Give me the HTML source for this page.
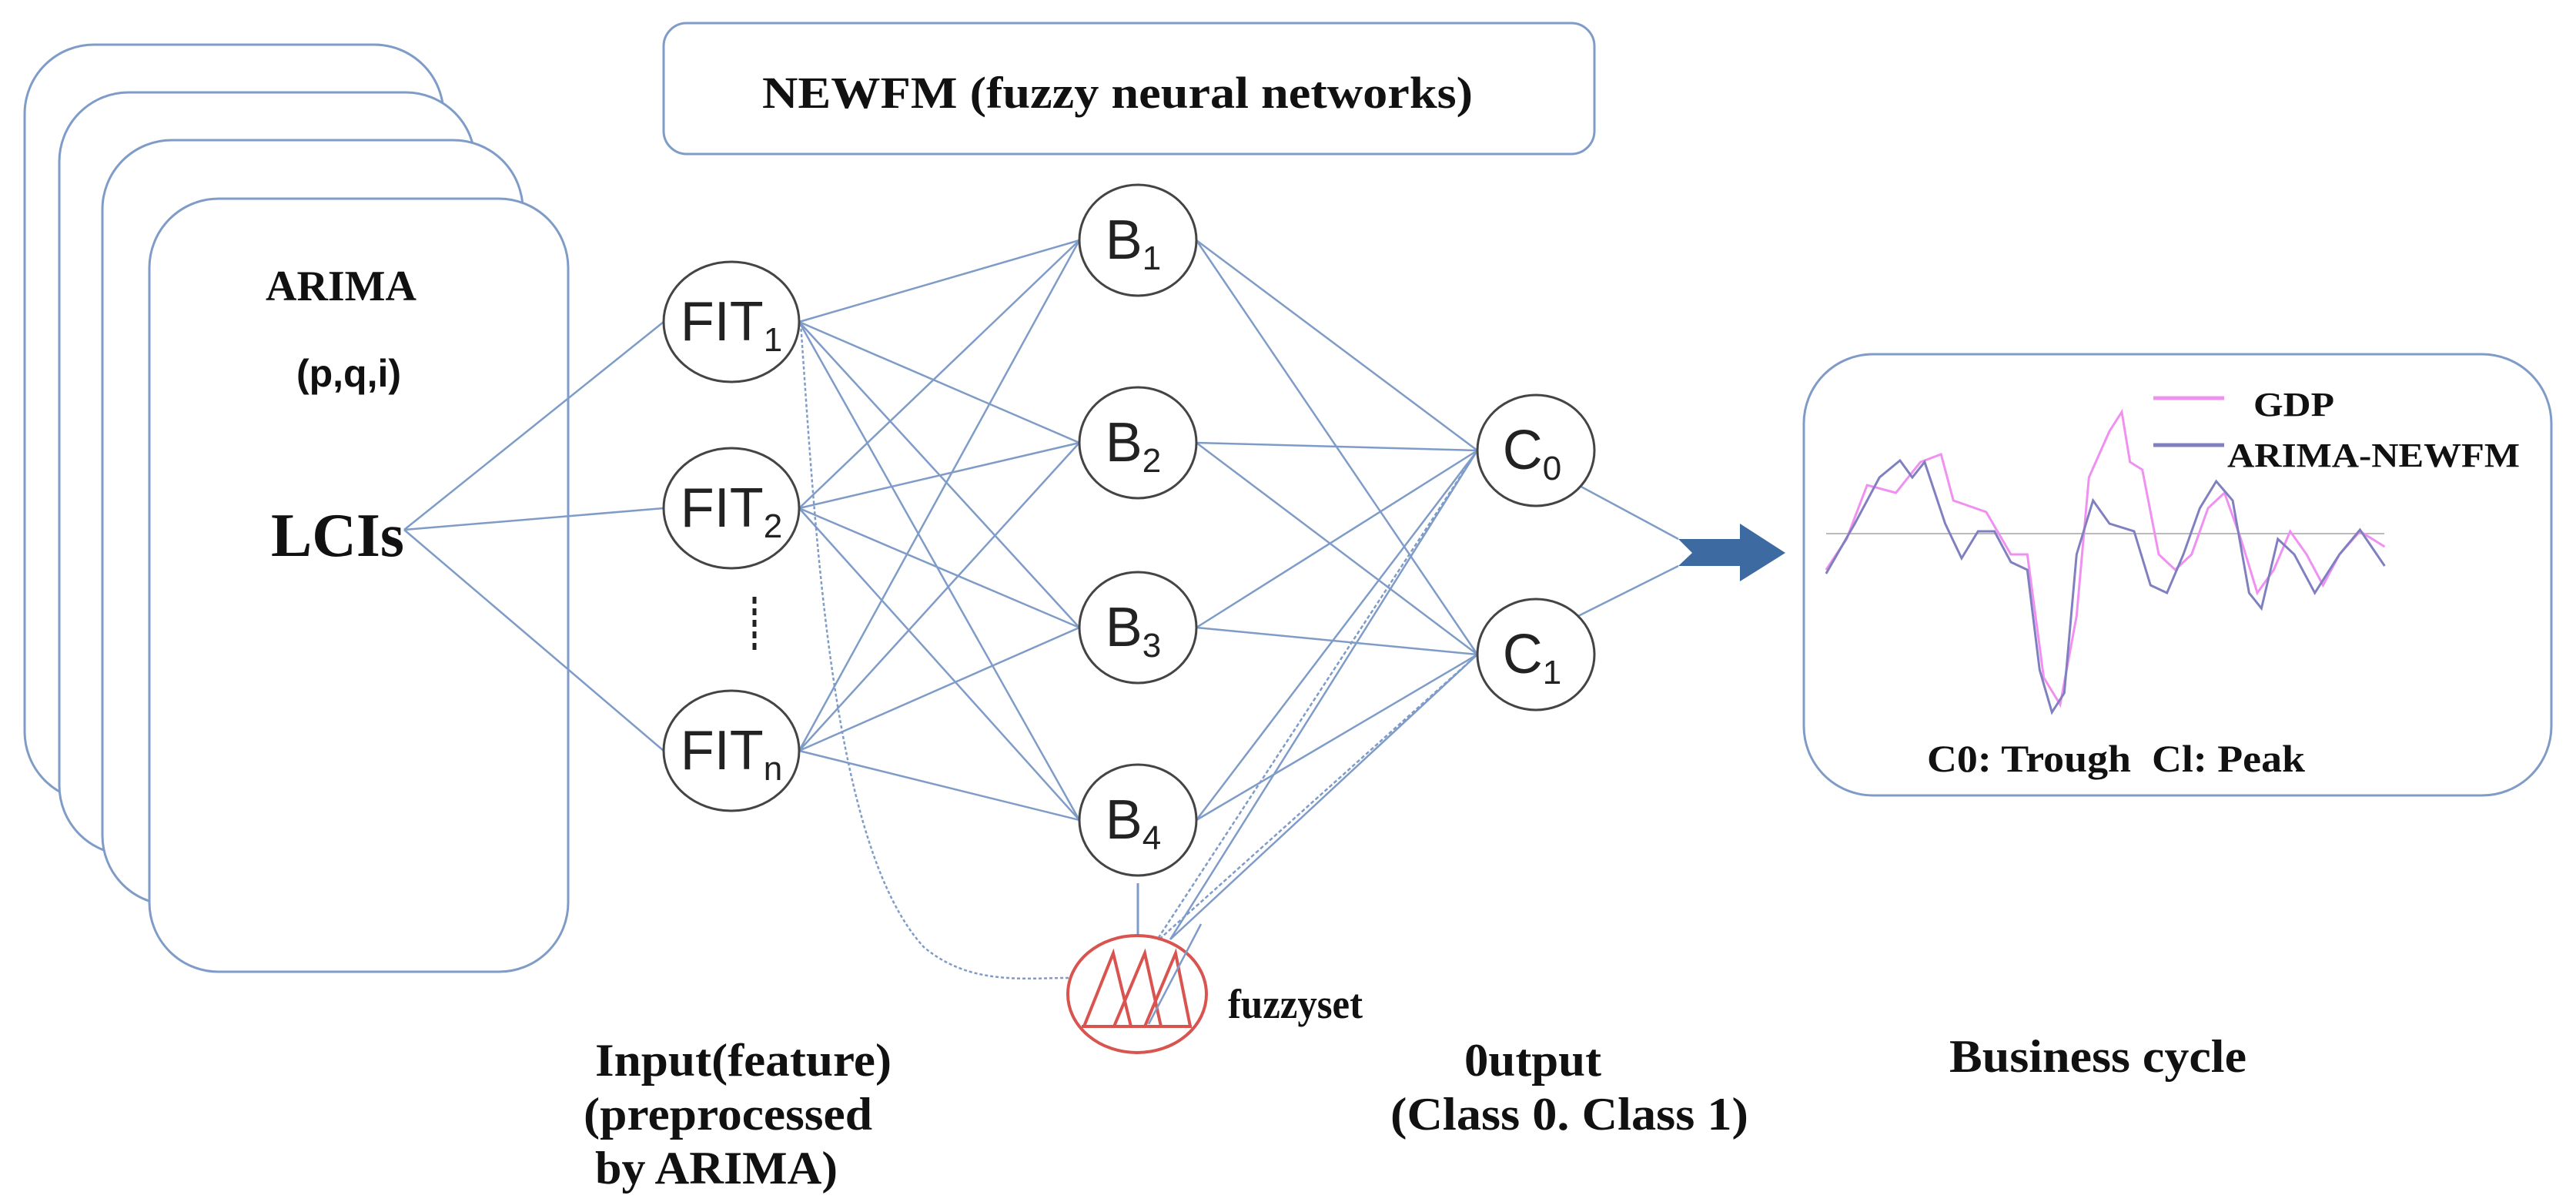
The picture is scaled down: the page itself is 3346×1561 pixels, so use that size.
<!DOCTYPE html>
<html><head><meta charset="utf-8"><style>
html,body{margin:0;padding:0;background:#fff}
svg{display:block}
text{font-family:"Liberation Serif",serif;font-weight:bold;fill:#111}
</style></head><body>
<svg id="s" width="3346" height="1561" viewBox="0 0 3346 1561" xmlns="http://www.w3.org/2000/svg">
<g fill="#fff" stroke="#7f9cc8" stroke-width="3">
<rect x="32" y="58" width="544" height="982" rx="90"/>
<rect x="77" y="120" width="540" height="990" rx="90"/>
<rect x="133" y="182" width="546" height="993" rx="90"/>
<rect x="194" y="258" width="544" height="1004" rx="90"/>
<rect x="862" y="30" width="1209" height="170" rx="30"/>
<rect x="2343" y="460" width="971" height="573" rx="90"/>
</g>
<text x="443" y="390" font-size="56" text-anchor="middle">ARIMA</text>
<text x="453" y="502" font-size="50" text-anchor="middle" style="font-family:'Liberation Sans',sans-serif">(p,q,i)</text>
<text x="352" y="722" font-size="80" textLength="173" lengthAdjust="spacingAndGlyphs">LCIs</text>
<text x="990" y="140" font-size="58" textLength="923" lengthAdjust="spacingAndGlyphs">NEWFM (fuzzy  neural  networks)</text>
<g id="lines" stroke="#7f9cc8" stroke-width="2.5" fill="none"></g>
<path d="M1040,420 C1060,700 1080,1100 1200,1230 C1260,1280 1330,1270 1388,1270" stroke="#7f9cc8" stroke-width="2.5" fill="none" stroke-dasharray="4,3"/>
<line x1="1478" y1="1147" x2="1478" y2="1222" stroke="#7f9cc8" stroke-width="3"/>
<g id="nodes" stroke="#444" stroke-width="3" fill="#fff"></g>
<line x1="980" y1="775" x2="980" y2="848" stroke="#222" stroke-width="5" stroke-dasharray="9,6"/>
<ellipse cx="1477" cy="1291" rx="90" ry="76" fill="#fff" stroke="#d9534f" stroke-width="4"/>
<g stroke="#d9534f" stroke-width="4" fill="none">
<line x1="1405" y1="1333" x2="1548" y2="1333"/>
<polyline points="1408,1333 1446,1238 1469,1333"/>
<polyline points="1447,1333 1487,1238 1508,1333"/>
<polyline points="1487,1333 1527,1238 1546,1333"/>
</g>
<line x1="1492" y1="1330" x2="1560" y2="1200" stroke="#7f9cc8" stroke-width="2.5"/>
<text x="1595" y="1322" font-size="54" textLength="175" lengthAdjust="spacingAndGlyphs">fuzzyset</text>
<polygon points="2180,700 2260,700 2260,680 2319,718 2260,755 2260,735 2180,735 2198,718" fill="#3d6aa0"/>
<line x1="2372" y1="693" x2="3097" y2="693" stroke="#bbb" stroke-width="2"/>
<g transform="translate(1673,0) scale(1.067,1)" fill="none" stroke-width="3">
<polyline vector-effect="non-scaling-stroke" stroke="#f090f0" points="655,740 680,700 705,630 740,640 770,600 795,590 810,650 850,665 880,720 900,720 920,880 940,915 960,800 975,620 1000,560 1015,535 1025,600 1040,610 1060,720 1080,740 1100,720 1120,660 1140,640 1160,700 1180,770 1200,740 1220,690 1240,720 1260,760 1280,720 1305,690 1335,710"/>
<polyline vector-effect="non-scaling-stroke" stroke="#8080c0" points="655,745 690,680 720,620 745,598 760,620 775,600 800,680 820,725 840,690 860,690 880,730 900,740 915,870 930,925 945,900 960,720 980,650 1000,680 1030,690 1050,760 1070,770 1090,720 1110,660 1130,625 1150,650 1170,770 1185,790 1205,700 1225,720 1250,770 1280,720 1305,688 1335,735"/>
</g>
<line x1="2797" y1="517" x2="2889" y2="517" stroke="#f090f0" stroke-width="5"/>
<line x1="2797" y1="578" x2="2889" y2="578" stroke="#8080c0" stroke-width="5"/>
<text x="2927" y="540" font-size="44" textLength="105" lengthAdjust="spacingAndGlyphs">GDP</text>
<text x="2893" y="606" font-size="44" textLength="380" lengthAdjust="spacingAndGlyphs">ARIMA-NEWFM</text>
<text x="2503" y="1002" font-size="50" textLength="491" lengthAdjust="spacingAndGlyphs" xml:space="preserve">C0: Trough  Cl: Peak</text>
<text x="773" y="1397" font-size="60" textLength="385" lengthAdjust="spacingAndGlyphs">Input(feature)</text>
<text x="758" y="1467" font-size="60" textLength="375" lengthAdjust="spacingAndGlyphs">(preprocessed</text>
<text x="773" y="1537" font-size="60" textLength="315" lengthAdjust="spacingAndGlyphs">by ARIMA)</text>
<text x="1902" y="1397" font-size="60" textLength="178" lengthAdjust="spacingAndGlyphs">0utput</text>
<text x="1806" y="1467" font-size="60" textLength="465" lengthAdjust="spacingAndGlyphs">(Class 0. Class 1)</text>
<text x="2532" y="1392" font-size="60" textLength="386" lengthAdjust="spacingAndGlyphs">Business cycle</text>
</svg>
<script>
var NS="http://www.w3.org/2000/svg";
function el(p,t,a,txt){var e=document.createElementNS(NS,t);for(var k in a)e.setAttribute(k,a[k]);if(txt!==undefined)e.textContent=txt;document.getElementById(p).appendChild(e);return e;}
var F=[[950,418],[950,660],[950,975]],B=[[1478,312],[1478,575],[1478,815],[1478,1065]],C=[[1995,585],[1995,850]];
function L(a,b,c,d,dash){var o={x1:a,y1:b,x2:c,y2:d};if(dash)o["stroke-dasharray"]="5,3";el("lines","line",o);}
F.forEach(function(f){L(525,688,f[0]-88,f[1]);B.forEach(function(b){L(f[0]+88,f[1],b[0]-76,b[1]);});});
B.forEach(function(b){C.forEach(function(c){L(b[0]+76,b[1],c[0]-76,c[1]);});});
C.forEach(function(c){L(1520,1220,c[0]-76,c[1]);L(1500,1225,c[0]-76,c[1],1);});
L(2050,630,2180,700);L(2050,800,2180,735);
F.forEach(function(f,i){el("nodes","ellipse",{cx:f[0],cy:f[1],rx:88,ry:78});});
B.forEach(function(b){el("nodes","ellipse",{cx:b[0],cy:b[1],rx:76,ry:72});});
C.forEach(function(c){el("nodes","ellipse",{cx:c[0],cy:c[1],rx:76,ry:72});});
function lab(x,y,m,s){var t=el("nodes","text",{x:x,y:y,"font-size":72,"text-anchor":"middle",style:"font-weight:normal;stroke:none;fill:#222;font-family:'Liberation Sans',sans-serif"});t.textContent=m;var ts=document.createElementNS(NS,"tspan");ts.setAttribute("font-size","44");ts.setAttribute("dy","14");ts.textContent=s;t.appendChild(ts);}
lab(950,442,"FIT","1");lab(950,684,"FIT","2");lab(950,999,"FIT","n");
B.forEach(function(b,i){lab(b[0]-6,b[1]+24,"B",""+(i+1));});
lab(1990,609,"C","0");lab(1990,874,"C","1");
</script>
</body></html>
